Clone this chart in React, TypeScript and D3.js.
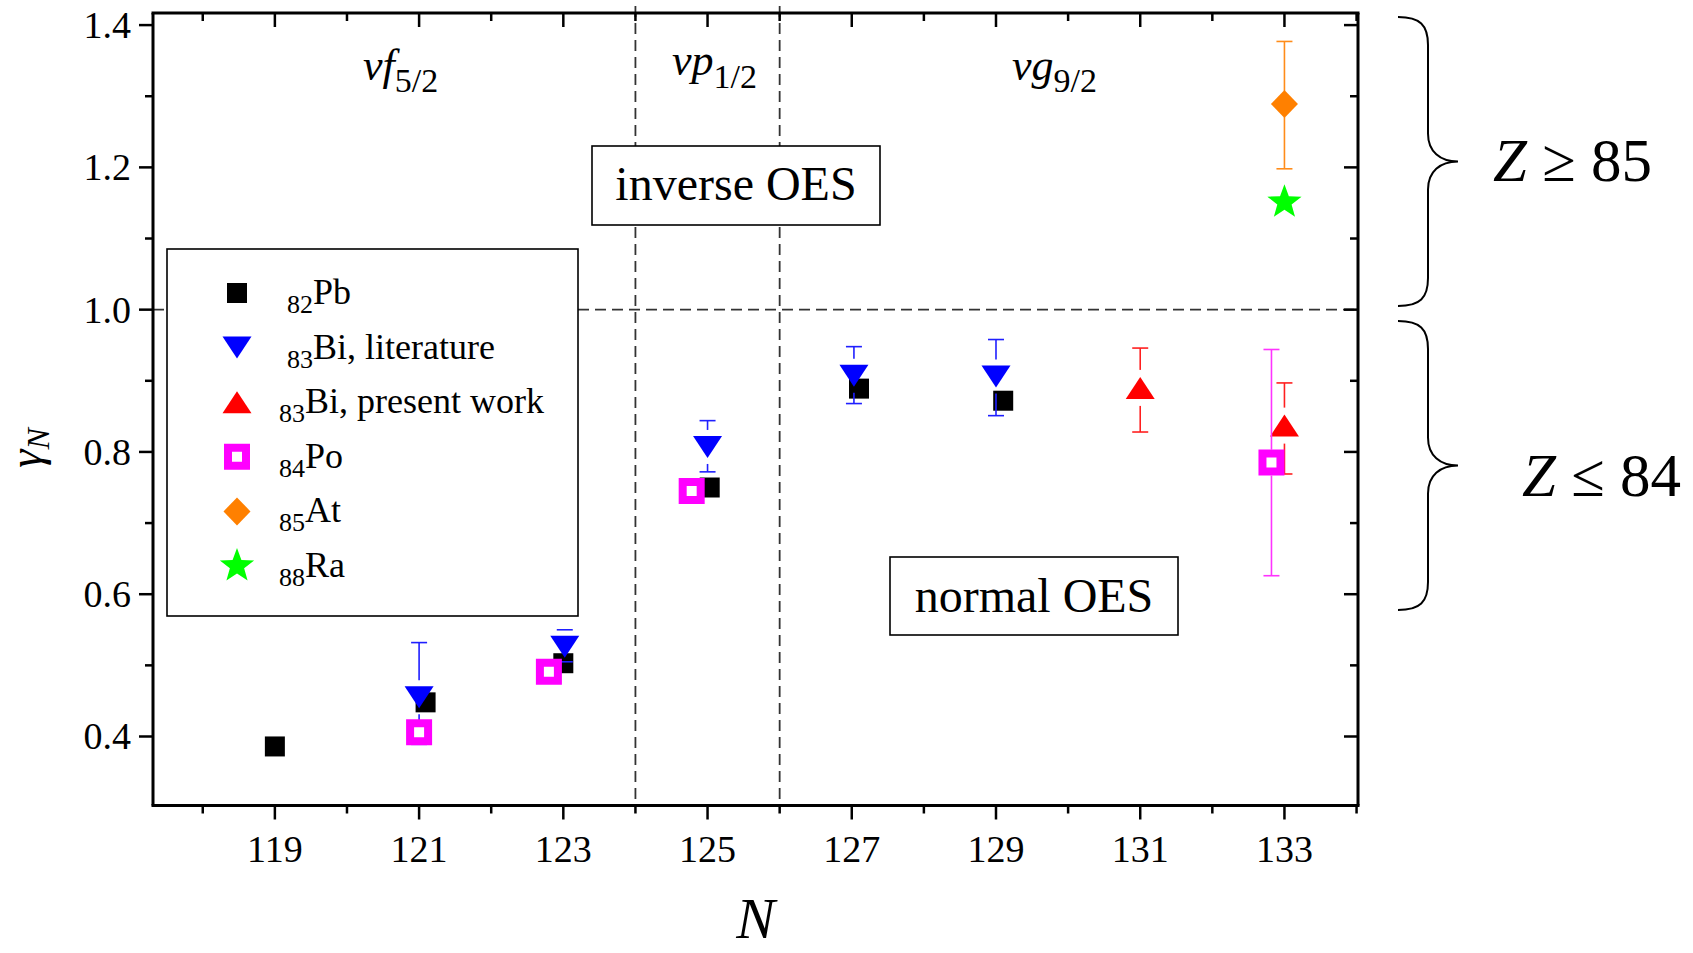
import React from "react";
import * as d3 from "d3";

// ---------- data ----------
const xTickLabels = [119, 121, 123, 125, 127, 129, 131, 133];
const xMinorTicks = [118, 120, 122, 124, 126, 128, 130, 132, 134];
const yTickLabels = [0.4, 0.6, 0.8, 1.0, 1.2, 1.4];
const yMinorTicks = [0.5, 0.7, 0.9, 1.1, 1.3];

const pbN = [119, 121.09, 123, 125.03, 127.1, 129.1];
const pbG = [0.386, 0.448, 0.503, 0.75, 0.889, 0.872];

const biLitN = [121, 123.02, 125, 127.03, 129];
const biLitG = [0.455, 0.526, 0.807, 0.907, 0.906];
const biLitLo = [0.389, 0.505, 0.772, 0.868, 0.851];
const biLitHi = [0.532, 0.55, 0.844, 0.948, 0.958];

const biNewN = [131, 133];
const biNewG = [0.89, 0.837];
const biNewLo = [0.828, 0.769];
const biNewHi = [0.946, 0.897];

const poN = [121, 122.8, 124.78, 132.82];
const poG = [0.406, 0.491, 0.745, 0.785];
const poLo = [NaN, NaN, NaN, 0.626];
const poHi = [NaN, NaN, NaN, 0.944];

const atN = [133];
const atG = [1.289];
const atLo = [1.198];
const atHi = [1.377];

const raN = [133];
const raG = [1.151];

const legendLabels = [
  { sub: "82", main: "Pb" },
  { sub: "83", main: "Bi, literature" },
  { sub: "83", main: "Bi, present work" },
  { sub: "84", main: "Po" },
  { sub: "85", main: "At" },
  { sub: "88", main: "Ra" },
];

const dividers = [124, 126];
const refLine = 1.0;

// ---------- layout ----------
const W = 1693;
const H = 953;
const L = 153, R = 1358, T = 13, B = 805.5;
const FONT = "'Liberation Serif', 'Times New Roman', serif";

const x = d3.scaleLinear().domain([117.31, 134.02]).range([L, R]);
const y = d3.scaleLinear().domain([0.303, 1.417]).range([B, T]);

// symbol path builders (centered at 0,0)
const sqPath = (s: number) => `M${-s / 2},${-s / 2}h${s}v${s}h${-s}Z`;
const triDown = (w: number, h: number) => `M${-w / 2},${-h / 2}L${w / 2},${-h / 2}L0,${h / 2}Z`;
const triUp = (w: number, h: number) => `M${-w / 2},${h / 2}L${w / 2},${h / 2}L0,${-h / 2}Z`;
const diamond = (w: number, h: number) => `M0,${-h / 2}L${w / 2},0L0,${h / 2}L${-w / 2},0Z`;
const star = (ro: number, ri: number) => {
  const pts: [number, number][] = [];
  for (let i = 0; i < 10; i++) {
    const a = (Math.PI / 5) * i - Math.PI / 2;
    const r = i % 2 === 0 ? ro : ri;
    pts.push([r * Math.cos(a), r * Math.sin(a)]);
  }
  return d3.line()(pts) + "Z";
};

type Sym = { d: string; fill: string; stroke?: string; sw?: number };
const SYM: Record<string, Sym> = {
  pb: { d: sqPath(20), fill: "#000000" },
  biLit: { d: triDown(29, 22), fill: "#0000ff" },
  biNew: { d: triUp(29, 22), fill: "#ff0000" },
  po: { d: sqPath(18), fill: "#ffffff", stroke: "#ff00ff", sw: 8 },
  at: { d: diamond(27, 28), fill: "#ff8000" },
  ra: { d: star(18, 7.5), fill: "#00ff00" },
};

function ErrBar({ n, g, lo, hi, color, gap }: { n: number; g: number; lo: number; hi: number; color: string; gap: number }) {
  if (isNaN(lo) || isNaN(hi)) return null;
  const cx = x(n), cy = y(g), yl = y(lo), yh = y(hi);
  const cw = 8;
  return (
    <g stroke={color} strokeWidth={1.6} fill="none">
      {cy - gap > yh && <line x1={cx} x2={cx} y1={yh} y2={cy - gap} />}
      {cy + gap < yl && <line x1={cx} x2={cx} y1={cy + gap} y2={yl} />}
      <line x1={cx - cw} x2={cx + cw} y1={yh} y2={yh} />
      <line x1={cx - cw} x2={cx + cw} y1={yl} y2={yl} />
    </g>
  );
}

function Mark({ n, g, sym }: { n: number; g: number; sym: Sym }) {
  return (
    <path
      d={sym.d}
      transform={`translate(${x(n)},${y(g)})`}
      fill={sym.fill}
      stroke={sym.stroke || "none"}
      strokeWidth={sym.sw || 0}
    />
  );
}

function bracePath(x0: number, y0: number, y1: number, xs: number, xp: number) {
  const ym = (y0 + y1) / 2;
  const p = d3.path();
  p.moveTo(x0, y0);
  p.bezierCurveTo(x0 + 22, y0, xs, y0 + 8, xs, y0 + 28);
  p.lineTo(xs, ym - 28);
  p.bezierCurveTo(xs, ym - 10, xs + 12, ym, xp, ym);
  p.bezierCurveTo(xs + 12, ym, xs, ym + 10, xs, ym + 28);
  p.lineTo(xs, y1 - 28);
  p.bezierCurveTo(xs, y1 - 8, x0 + 22, y1, x0, y1);
  return p.toString();
}

export default function App() {
  const legendRows = [SYM.pb, SYM.biLit, SYM.biNew, SYM.po, SYM.at, SYM.ra];
  const legendSubX = [287, 287, 279, 279, 279, 279];
  return (
    <svg width={W} height={H} style={{ position: "absolute", left: 0, top: 0, background: "#fff" }} fontFamily={FONT}>
      <rect x={0} y={0} width={W} height={H} fill="#fff" />

      {/* dashed guide lines */}
      <g stroke="#333" strokeWidth={1.8} strokeDasharray="11,6" fill="none">
        {dividers.map((d) => (
          <line key={d} x1={x(d)} x2={x(d)} y1={6} y2={B} />
        ))}
        <line x1={L} x2={R} y1={y(refLine)} y2={y(refLine)} />
      </g>

      {/* orbital labels */}
      <g fontSize={44} fill="#000">
        <text x={363} y={80}>
          <tspan fontStyle="italic">νf</tspan>
          <tspan fontSize={34} dy={12}>5/2</tspan>
        </text>
        <text x={672} y={75}>
          <tspan fontStyle="italic">νp</tspan>
          <tspan fontSize={34} dy={13}>1/2</tspan>
        </text>
        <text x={1012} y={80}>
          <tspan fontStyle="italic">νg</tspan>
          <tspan fontSize={34} dy={12}>9/2</tspan>
        </text>
      </g>

      {/* annotation boxes */}
      <rect x={592} y={146} width={288} height={79} fill="#fff" stroke="#000" strokeWidth={1.6} />
      <text x={736} y={200} fontSize={48} textAnchor="middle">inverse OES</text>
      <rect x={890} y={557} width={288} height={78} fill="#fff" stroke="#000" strokeWidth={1.6} />
      <text x={1034} y={612} fontSize={48} textAnchor="middle">normal OES</text>

      {/* data */}
      {pbN.map((n, i) => <Mark key={"pb" + i} n={n} g={pbG[i]} sym={SYM.pb} />)}
      {biLitN.map((n, i) => (
        <g key={"bl" + i}>
          <ErrBar n={n} g={biLitG[i]} lo={biLitLo[i]} hi={biLitHi[i]} color="#1f1fff" gap={17} />
          <Mark n={n} g={biLitG[i]} sym={SYM.biLit} />
        </g>
      ))}
      {biNewN.map((n, i) => (
        <g key={"bn" + i}>
          <ErrBar n={n} g={biNewG[i]} lo={biNewLo[i]} hi={biNewHi[i]} color="#ff1f1f" gap={18} />
          <Mark n={n} g={biNewG[i]} sym={SYM.biNew} />
        </g>
      ))}
      {poN.map((n, i) => (
        <g key={"po" + i}>
          <ErrBar n={n} g={poG[i]} lo={poLo[i]} hi={poHi[i]} color="#ff33ff" gap={13} />
          <Mark n={n} g={poG[i]} sym={SYM.po} />
        </g>
      ))}
      {atN.map((n, i) => (
        <g key={"at" + i}>
          <ErrBar n={n} g={atG[i]} lo={atLo[i]} hi={atHi[i]} color="#ff8c1a" gap={13} />
          <Mark n={n} g={atG[i]} sym={SYM.at} />
        </g>
      ))}
      {raN.map((n, i) => <Mark key={"ra" + i} n={n} g={raG[i]} sym={SYM.ra} />)}

      {/* legend */}
      <rect x={167} y={249} width={411} height={367} fill="#fff" stroke="#000" strokeWidth={1.6} />
      {legendLabels.map((lab, i) => {
        const cy = 293 + i * 54.6;
        const s = legendRows[i];
        return (
          <g key={"lg" + i}>
            <path d={s.d} transform={`translate(237,${cy})`} fill={s.fill} stroke={s.stroke || "none"} strokeWidth={s.sw || 0} />
            <text x={legendSubX[i]} y={cy + 11} fontSize={36}>
              <tspan fontSize={26} dy={9}>{lab.sub}</tspan>
              <tspan dy={-9}>{lab.main}</tspan>
            </text>
          </g>
        );
      })}

      {/* axes frame */}
      <g stroke="#000" strokeWidth={3} fill="none">
        <line x1={L - 1.5} x2={R + 1.5} y1={B} y2={B} />
        <line x1={L - 1.5} x2={R + 1.5} y1={T} y2={T} />
        <line x1={L} x2={L} y1={T} y2={B} />
        <line x1={R} x2={R} y1={T} y2={B} />
      </g>
      <g stroke="#000" strokeWidth={2.5}>
        {xTickLabels.map((t) => (
          <g key={"xt" + t}>
            <line x1={x(t)} x2={x(t)} y1={B} y2={B + 14} />
            <line x1={x(t)} x2={x(t)} y1={T} y2={T + 14} />
          </g>
        ))}
        {xMinorTicks.map((t) => (
          <g key={"xm" + t}>
            <line x1={x(t)} x2={x(t)} y1={B} y2={B + 8} />
            <line x1={x(t)} x2={x(t)} y1={T} y2={T + 8} />
          </g>
        ))}
        {yTickLabels.map((t) => (
          <g key={"yt" + t}>
            <line x1={L - 14} x2={L} y1={y(t)} y2={y(t)} />
            <line x1={R - 14} x2={R} y1={y(t)} y2={y(t)} />
          </g>
        ))}
        {yMinorTicks.map((t) => (
          <g key={"ym" + t}>
            <line x1={L - 8} x2={L} y1={y(t)} y2={y(t)} />
            <line x1={R - 8} x2={R} y1={y(t)} y2={y(t)} />
          </g>
        ))}
      </g>

      {/* tick labels */}
      <g fontSize={38} fill="#000">
        {xTickLabels.map((t) => (
          <text key={"xl" + t} x={x(t)} y={862} textAnchor="middle">{t}</text>
        ))}
        {yTickLabels.map((t) => (
          <text key={"yl" + t} x={131} y={y(t) + 13} textAnchor="end">{d3.format(".1f")(t)}</text>
        ))}
      </g>

      {/* axis titles */}
      <text x={(L + R) / 2} y={938} fontSize={58} fontStyle="italic" textAnchor="middle">N</text>
      <text transform={`translate(41,448) rotate(-90)`} fontSize={46} fontStyle="italic" textAnchor="middle">
        <tspan>γ</tspan>
        <tspan fontSize={32} dy={8}>N</tspan>
      </text>

      {/* braces and Z labels */}
      <g stroke="#000" strokeWidth={2} fill="none">
        <path d={bracePath(1398, 17, 306, 1428, 1458)} />
        <path d={bracePath(1398, 321, 610, 1428, 1458)} />
      </g>
      <text x={1493} y={181} fontSize={61}>
        <tspan fontStyle="italic">Z</tspan>
        <tspan> ≥ 85</tspan>
      </text>
      <text x={1522} y={496} fontSize={61}>
        <tspan fontStyle="italic">Z</tspan>
        <tspan> ≤ 84</tspan>
      </text>
    </svg>
  );
}
